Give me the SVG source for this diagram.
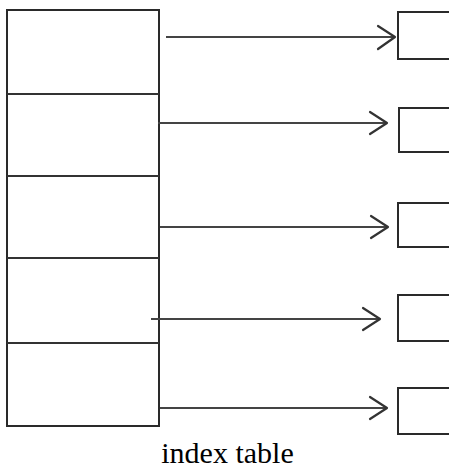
<svg xmlns="http://www.w3.org/2000/svg" width="449" height="470" viewBox="0 0 449 470">
  <defs>
    <style>
      .frame { fill: #ffffff; stroke: #2a2a2a; stroke-width: 2; }
      .divider { stroke: #333333; stroke-width: 2.2; fill: none; }
      .slot { fill: #ffffff; stroke: #2a2a2a; stroke-width: 2; }
      .link { stroke: #444444; stroke-width: 2; fill: none; }
      .head { stroke: #333333; stroke-width: 2.2; fill: none; stroke-linecap: round; stroke-linejoin: round; }
      .caption { font-family: "Liberation Serif", "Times New Roman", serif; font-size: 30px; fill: #000000; }
    </style>
  </defs>
  <rect width="449" height="470" fill="#ffffff"/>

  <!-- index table: one column of five cells -->
  <g id="index-table">
    <rect class="frame" x="7" y="10" width="152" height="416"/>
    <line class="divider" x1="7" y1="94" x2="159" y2="94"/>
    <line class="divider" x1="7" y1="176" x2="159" y2="176"/>
    <line class="divider" x1="7" y1="258" x2="159" y2="258"/>
    <line class="divider" x1="7" y1="343" x2="159" y2="343"/>
  </g>

  <!-- target blocks -->
  <g id="block-1"><rect class="slot" x="398" y="12" width="60" height="47"/></g>
  <g id="block-2"><rect class="slot" x="399" y="108" width="60" height="44"/></g>
  <g id="block-3"><rect class="slot" x="398" y="203" width="60" height="44"/></g>
  <g id="block-4"><rect class="slot" x="398" y="295" width="60" height="46"/></g>
  <g id="block-5"><rect class="slot" x="398" y="388" width="60" height="46"/></g>

  <!-- pointers from index cells to blocks -->
  <g id="connectors">
    <line class="link" x1="166" y1="37" x2="395" y2="37"/>
    <polyline class="head" points="378,26 395,37 378,49"/>

    <line class="link" x1="158" y1="123" x2="387" y2="123"/>
    <polyline class="head" points="370,112 387,123 370,134"/>

    <line class="link" x1="160" y1="227" x2="388" y2="227"/>
    <polyline class="head" points="371,216 388,227 371,238"/>

    <line class="link" x1="151" y1="319" x2="380" y2="319"/>
    <polyline class="head" points="363,308 380,319 363,330"/>

    <line class="link" x1="160" y1="408" x2="387" y2="408"/>
    <polyline class="head" points="370,397 387,408 370,419"/>
  </g>

  <text class="caption" x="227.5" y="463" text-anchor="middle">index table</text>
</svg>
